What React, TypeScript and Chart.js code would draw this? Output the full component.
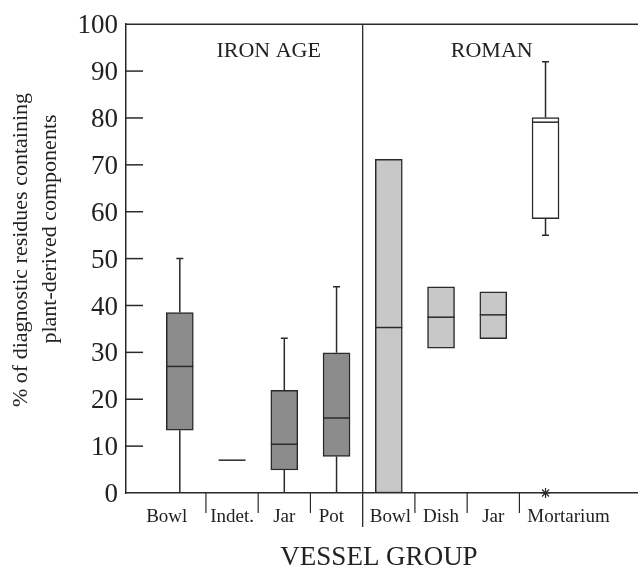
import React, { useEffect, useRef } from "react";
import { Chart, registerables } from "chart.js";

Chart.register(...registerables);

// ---- data ----
const categories = ["Bowl", "Indet.", "Jar", "Pot", "Bowl", "Dish", "Jar", "Mortarium"];
const positions = [1, 2, 3, 4, 5, 6, 7, 8];
const labelAt = [0.75, 2, 3, 3.9, 5.03, 6, 7, 8.44];
const groups = ["IRON AGE", "ROMAN"];
const groupLabelAt = [2.7, 6.97];
const groupDivider = 4.5;
const whiskerLow: (number | null)[] = [0, null, 0, 0, null, null, null, 55];
const q1 = [13.4, 7, 4.9, 7.8, 0, 30.9, 32.9, 58.5];
const median = [27, 7, 10.4, 16, 35.3, 37.5, 38, 79.1];
const q3 = [38.5, 7, 21.9, 29.9, 71.2, 44, 42.9, 80.1];
const whiskerHigh: (number | null)[] = [50, null, 33, 44, null, null, null, 92];
const outlierX = [8];
const outlierY = [0];
const yTickValues = [0, 10, 20, 30, 40, 50, 60, 70, 80, 90, 100];
const yTitle = ["% of diagnostic residues containing", "plant-derived components"];
const xTitle = "VESSEL GROUP";

const boxColors = ["#8c8c8c", "#8c8c8c", "#8c8c8c", "#8c8c8c", "#c8c8c8", "#c8c8c8", "#c8c8c8", "#ffffff"];

const SERIF = "'Liberation Serif', 'Times New Roman', serif";
const INK = "#2a2a2a";

const overlay = {
  id: "boxOverlay",
  afterDatasetsDraw(chart: any) {
    const { ctx, chartArea } = chart;
    const xs = chart.scales.x;
    const ys = chart.scales.y;
    const meta = chart.getDatasetMeta(0);
    ctx.save();
    ctx.strokeStyle = INK;
    ctx.lineWidth = 1.5;

    // top frame line
    ctx.beginPath();
    ctx.moveTo(chartArea.left, chartArea.top);
    ctx.lineTo(chartArea.right, chartArea.top);
    ctx.stroke();

    // inward y tick marks
    yTickValues.forEach((v) => {
      if (v === 0 || v === 100) return;
      const py = ys.getPixelForValue(v);
      ctx.beginPath();
      ctx.moveTo(chartArea.left, py);
      ctx.lineTo(chartArea.left + 17, py);
      ctx.stroke();
    });

    // category separators
    for (let i = 0; i < positions.length - 1; i++) {
      const v = (positions[i] + positions[i + 1]) / 2;
      const px = xs.getPixelForValue(v);
      ctx.beginPath();
      if (v === groupDivider) {
        ctx.lineWidth = 1.3;
        ctx.moveTo(px, chartArea.top);
        ctx.lineTo(px, chartArea.bottom + 34);
      } else {
        ctx.lineWidth = 1.2;
        ctx.moveTo(px, chartArea.bottom);
        ctx.lineTo(px, chartArea.bottom + 20);
      }
      ctx.stroke();
    }

    // whiskers and medians
    positions.forEach((p, i) => {
      const el = meta.data[i];
      const cx = xs.getPixelForValue(p);
      const half = el ? el.width / 2 : 13.5;
      ctx.lineWidth = 1.5;
      ctx.strokeStyle = INK;
      const hi = whiskerHigh[i];
      if (hi !== null) {
        const y0 = ys.getPixelForValue(q3[i]);
        const y1 = ys.getPixelForValue(hi);
        ctx.beginPath();
        ctx.moveTo(cx, y0);
        ctx.lineTo(cx, y1);
        ctx.moveTo(cx - 3.5, y1);
        ctx.lineTo(cx + 3.5, y1);
        ctx.stroke();
      }
      const lo = whiskerLow[i];
      if (lo !== null) {
        const y0 = ys.getPixelForValue(q1[i]);
        const y1 = ys.getPixelForValue(lo);
        ctx.beginPath();
        ctx.moveTo(cx, y0);
        ctx.lineTo(cx, y1);
        if (lo > 0) {
          ctx.moveTo(cx - 3.5, y1);
          ctx.lineTo(cx + 3.5, y1);
        }
        ctx.stroke();
      }
      const my = ys.getPixelForValue(median[i]);
      ctx.beginPath();
      ctx.moveTo(cx - half, my);
      ctx.lineTo(cx + half, my);
      ctx.stroke();
    });

    // group labels
    ctx.fillStyle = "#222";
    ctx.font = `22px ${SERIF}`;
    ctx.textAlign = "center";
    ctx.textBaseline = "alphabetic";
    groups.forEach((g, i) => {
      ctx.fillText(g, xs.getPixelForValue(groupLabelAt[i]), 57);
    });

    // category labels
    ctx.font = `19px ${SERIF}`;
    categories.forEach((c, i) => {
      ctx.fillText(c, xs.getPixelForValue(labelAt[i]), chartArea.bottom + 29);
    });

    // x title
    ctx.font = `27px ${SERIF}`;
    ctx.fillText(xTitle, 379, 565);

    // y title
    ctx.font = `22px ${SERIF}`;
    const yLines = [
      { x: 27, y: 250 },
      { x: 56, y: 229 },
    ];
    yTitle.forEach((t, i) => {
      ctx.save();
      ctx.translate(yLines[i].x, yLines[i].y);
      ctx.rotate(-Math.PI / 2);
      ctx.fillText(t, 0, 0);
      ctx.restore();
    });

    ctx.restore();
  },
};

export default function App() {
  const ref = useRef<HTMLCanvasElement | null>(null);
  useEffect(() => {
    if (!ref.current) return;
    const chart = new Chart(ref.current, {
      type: "bar",
      data: {
        datasets: [
          {
            type: "bar",
            data: positions.map((p, i) => ({ x: p, y: [q1[i], q3[i]] })) as any,
            backgroundColor: positions.map((_, i) => (q1[i] === q3[i] ? "rgba(0,0,0,0)" : boxColors[i])),
            borderColor: positions.map((_, i) => (q1[i] === q3[i] ? "rgba(0,0,0,0)" : INK)),
            borderWidth: 1.5,
            borderSkipped: false,
            barThickness: 27,
          } as any,
          {
            type: "scatter",
            data: outlierX.map((x, i) => ({ x, y: outlierY[i] })),
            pointStyle: "star",
            radius: 5,
            borderColor: INK,
            borderWidth: 1.2,
            backgroundColor: INK,
            clip: false,
          } as any,
        ],
      },
      options: {
        animation: false,
        responsive: true,
        maintainAspectRatio: false,
        events: [],
        layout: { autoPadding: false, padding: { top: 24, right: 0, bottom: 0, left: 0 } },
        plugins: { legend: { display: false }, tooltip: { enabled: false } },
        scales: {
          x: {
            type: "linear",
            min: -0.03,
            max: 9.77,
            offset: false,
            grid: { display: false, offset: false, drawTicks: false },
            ticks: { display: false },
            border: { display: true, color: INK, width: 1.5 },
            afterFit: (s: any) => {
              s.height = 74;
            },
          },
          y: {
            min: 0,
            max: 100,
            grid: { display: false, drawTicks: false },
            border: { display: true, color: INK, width: 1.5 },
            ticks: {
              stepSize: 10,
              padding: 8,
              labelOffset: 2,
              color: "#222",
              font: { family: SERIF, size: 27 },
            },
            afterFit: (s: any) => {
              s.width = 126;
            },
          },
        },
      } as any,
      plugins: [overlay],
    });
    return () => chart.destroy();
  }, []);
  return (
    <div style={{ position: "absolute", left: 0, top: 0, width: 638, height: 567, background: "#fff" }}>
      <canvas ref={ref} />
    </div>
  );
}
